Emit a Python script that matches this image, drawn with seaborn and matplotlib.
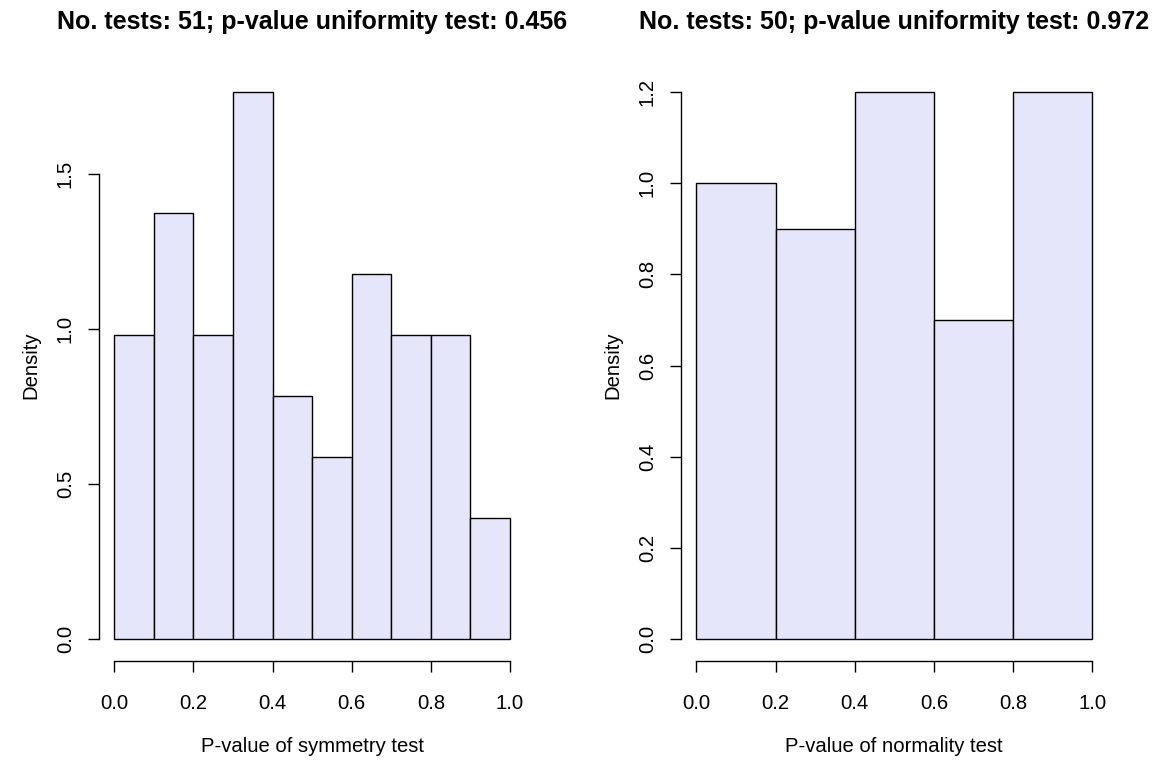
import numpy as np
import pandas as pd
import matplotlib
matplotlib.use("Agg")
import matplotlib.pyplot as plt
import seaborn as sns

# Histogram bins and counts of the p-values
sym_edges = [0.0, 0.1, 0.2, 0.3, 0.4, 0.5, 0.6, 0.7, 0.8, 0.9, 1.0]
sym_counts = [5, 7, 5, 9, 4, 3, 6, 5, 5, 2]
norm_edges = [0.0, 0.2, 0.4, 0.6, 0.8, 1.0]
norm_counts = [10, 9, 12, 7, 12]

sym_title = "No. tests: 51; p-value uniformity test: 0.456"
norm_title = "No. tests: 50; p-value uniformity test: 0.972"
sym_xlabel = "P-value of symmetry test"
norm_xlabel = "P-value of normality test"
ylabel = "Density"
sym_yticks = [0.0, 0.5, 1.0, 1.5]
norm_yticks = [0.0, 0.2, 0.4, 0.6, 0.8, 1.0, 1.2]
xticks = [0.0, 0.2, 0.4, 0.6, 0.8, 1.0]

sns.set_style("white")
plt.rcParams["font.family"] = ["Liberation Sans", "DejaVu Sans"]
plt.rcParams["text.color"] = "black"
plt.rcParams["axes.labelcolor"] = "black"

W, H = 1160, 762
fig = plt.figure(figsize=(W / 100, H / 100), dpi=100)


def px_axes(x0, x1, y0, y1):
    return fig.add_axes([x0 / W, 1 - y1 / H, (x1 - x0) / W, (y1 - y0) / H])


FS = 14.6


def draw(ax, edges, counts, title, xlabel, yticks):
    e = np.asarray(edges, dtype=float)
    centers = (e[:-1] + e[1:]) / 2
    df = pd.DataFrame({"p": centers, "n": counts})
    sns.histplot(data=df, x="p", weights="n", bins=list(edges), stat="density",
                 ax=ax, color="#E6E6FA", edgecolor="black", linewidth=1.0,
                 alpha=1.0)
    dens = np.asarray(counts) / (np.sum(counts) * np.diff(e))
    ymax = dens.max()
    ax.set_xlim(-0.04, 1.04)
    ax.set_ylim(-0.04 * ymax, 1.04 * ymax)

    for s in ["top", "right"]:
        ax.spines[s].set_visible(False)
    for s in ["left", "bottom"]:
        ax.spines[s].set_visible(True)
        ax.spines[s].set_color("black")
        ax.spines[s].set_linewidth(1.0)
    ax.spines["bottom"].set_bounds(xticks[0], xticks[-1])
    ax.spines["left"].set_bounds(yticks[0], yticks[-1])

    ax.set_xticks(xticks)
    ax.set_xticklabels([f"{v:.1f}" for v in xticks])
    ax.set_yticks(yticks)
    ax.set_yticklabels([f"{v:.1f}" for v in yticks], rotation=90, va="center")
    ax.tick_params(axis="both", which="major", bottom=True, left=True,
                   direction="out", length=8, width=1.0,
                   color="black", labelsize=FS, labelcolor="black")
    ax.tick_params(axis="x", pad=16)
    ax.tick_params(axis="y", pad=9)
    ax.grid(False)

    ax.set_xlabel(xlabel, fontsize=FS, color="black")
    ax.xaxis.label.set_va("center")
    ax.xaxis.set_label_coords(0.5, -0.1455)
    ax.set_ylabel(ylabel, fontsize=FS, color="black")
    ax.yaxis.label.set_va("center")
    ax.yaxis.label.set_ha("center")
    ax.yaxis.set_label_coords(-0.159, 0.5)

    ax.set_title(title, fontsize=18, fontweight="bold", y=1.0812, pad=0,
                 va="center", color="black")


ax1 = px_axes(98.5, 525.8, 70, 661)
ax2 = px_axes(680.5, 1108, 70, 661)
draw(ax1, sym_edges, sym_counts, sym_title, sym_xlabel, sym_yticks)
draw(ax2, norm_edges, norm_counts, norm_title, norm_xlabel, norm_yticks)

fig.savefig("out.png", dpi=100, facecolor="white")
